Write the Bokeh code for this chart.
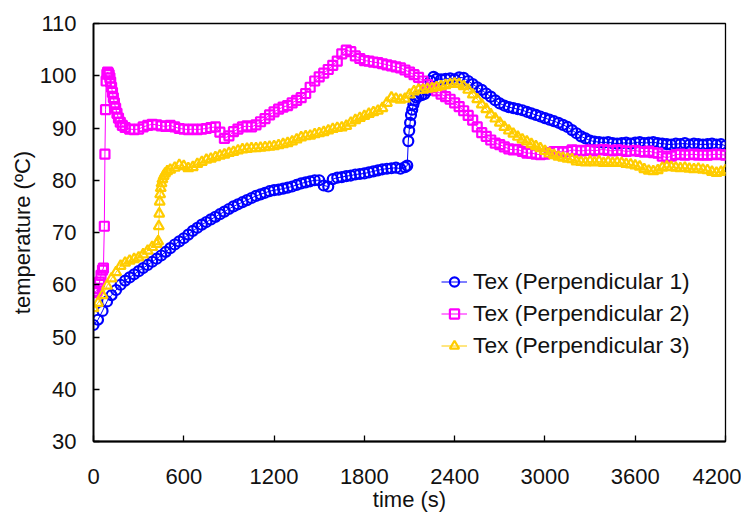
from bokeh.plotting import figure
from bokeh.models import Range1d, FixedTicker, Legend, LegendItem, ColumnDataSource
from bokeh.embed import file_html
from bokeh.resources import INLINE

# ---------------- data ----------------
x_ticks = [0, 600, 1200, 1800, 2400, 3000, 3600, 4200]
y_ticks = [30, 40, 50, 60, 70, 80, 90, 100, 110]

label1 = "Tex (Perpendicular 1)"
label2 = "Tex (Perpendicular 2)"
label3 = "Tex (Perpendicular 3)"

# Series 1 (blue, circles)
t1 = (list(range(0, 2071, 30))
      + [2085, 2092, 2098, 2104, 2110, 2118, 2126, 2135, 2145, 2160, 2180, 2200, 2220, 2240, 2260]
      + list(range(2280, 4201, 30)))
y1 = [52.3, 53.3, 55.0, 56.8, 58.0, 59.0, 60.0, 60.8, 61.4, 62.0,
      62.6, 63.2, 63.8, 64.4, 65.0, 65.6, 66.3, 67.0, 67.7, 68.3,
      68.9, 69.6, 70.3, 70.9, 71.5, 72.0, 72.5, 73.0, 73.5, 74.0,
      74.5, 75.0, 75.4, 75.8, 76.2, 76.6, 77.0, 77.3, 77.6, 77.9,
      78.1, 78.2, 78.4, 78.6, 78.8, 79.1, 79.4, 79.6, 79.8, 80.0,
      80.0, 79.0, 78.8, 80.2, 80.5, 80.6, 80.8, 80.9, 81.1, 81.2,
      81.3, 81.5, 81.7, 81.9, 82.1, 82.2, 82.3, 82.4, 82.2, 82.5,
      82.8, 87.5, 89.5, 91.0, 92.5, 93.5, 94.5, 95.3, 95.8, 96.1,
      96.3, 96.5, 97.2, 99.0, 99.8,
      99.4, 99.3, 99.4, 99.5, 99.3, 99.7, 99.6, 99.0, 98.4, 97.8,
      97.3, 96.6, 96.0, 95.3, 94.7, 94.3, 94.0, 93.8, 93.6, 93.4,
      93.1, 92.8, 92.5, 92.2, 91.9, 91.6, 91.3, 91.0, 90.6, 90.2,
      89.6, 89.0, 88.4, 88.0, 87.6, 87.4, 87.3, 87.2, 87.3, 87.1,
      87.0, 87.1, 87.2, 87.0, 87.2, 87.3, 87.1, 87.2, 87.3, 87.1,
      87.0, 86.9, 86.8, 87.0, 86.9, 87.1, 86.8, 87.0, 86.9, 86.8,
      86.9, 87.0, 86.8, 86.9, 86.6]

# Series 2 (magenta, squares)
t2 = ([0, 10, 20, 30, 40, 50, 60, 66, 72, 76, 80, 84, 89, 94, 99, 104, 109, 114,
       120, 126, 132, 139, 147, 156, 166, 178, 192, 210]
      + list(range(240, 4201, 30)))
y2 = [58.5, 58.6, 58.8, 59.3, 60.5, 61.8, 62.8, 63.2, 71.2, 85.0,
      93.5, 99.0, 100.3, 100.7, 100.5, 100.2, 99.6, 98.8, 97.8, 96.8,
      95.8, 94.8, 93.8, 92.8, 91.9, 91.1, 90.5, 90.1,
      89.8, 89.7, 89.8, 90.2, 90.5, 90.7, 90.6, 90.4, 90.3, 90.5,
      90.2, 89.9, 89.8, 89.7, 89.8, 89.7, 89.8, 89.9, 90.1, 90.2,
      89.2, 88.0, 88.5, 89.3, 89.8, 90.2, 90.4, 90.2, 90.6, 91.2,
      91.8, 92.5, 93.1, 93.6, 94.0, 94.3, 94.8, 95.3, 95.8, 96.6,
      97.8, 99.0, 99.8, 100.5, 101.2, 102.0, 102.8, 104.2, 104.9, 104.6,
      103.8, 103.3, 102.9, 102.8, 102.6, 102.5, 102.3, 102.1, 101.9, 101.7,
      101.5, 101.1, 100.7, 100.2, 99.7, 99.0, 98.3, 97.7, 97.1, 96.5,
      96.0, 95.5, 94.8, 94.1, 93.3, 92.4, 91.5, 90.2, 89.1, 88.4,
      87.7, 87.1, 86.8, 86.4, 86.0, 85.8, 85.9, 85.5, 85.2, 85.2,
      85.0, 84.9, 85.0, 85.3, 85.5, 85.5, 85.4, 85.5, 85.8, 85.7,
      85.6, 85.7, 85.8, 85.6, 85.8, 85.9, 85.7, 85.6, 85.8, 85.7,
      85.5, 85.6, 85.7, 85.5, 85.4, 85.6, 85.3, 85.2, 84.6, 84.3,
      84.6, 84.9, 85.0, 84.8, 84.9, 85.0, 84.8, 84.9, 84.8, 84.9,
      85.0, 84.9, 84.8]

# Series 3 (gold, triangles)
t3 = (list(range(0, 421, 30))
      + [430, 434, 437, 440, 443, 447, 452, 458, 466, 476, 490]
      + list(range(510, 4201, 30)))
y3 = [55.5, 56.5, 58.0, 59.8, 61.2, 62.4, 63.6, 64.2, 64.6, 64.9,
      65.2, 65.8, 66.5, 67.2, 67.8,
      68.3, 71.2, 73.6, 75.9, 77.3, 78.5, 79.4, 80.2, 80.8, 81.3, 81.7,
      82.0, 82.4, 82.9, 82.7, 82.3, 82.5, 83.1, 83.5, 83.9, 84.1,
      84.4, 84.7, 84.9, 85.2, 85.4, 85.7, 85.9, 86.0, 86.1, 86.1,
      86.2, 86.3, 86.4, 86.5, 86.7, 86.9, 87.1, 87.4, 87.8, 88.2,
      88.4, 88.5, 88.8, 89.0, 89.2, 89.5, 89.8, 90.0, 90.1, 90.4,
      91.0, 91.5, 91.9, 92.3, 92.7, 93.0, 93.3, 93.8, 94.8, 95.8,
      95.6, 95.4, 95.6, 96.4, 97.0, 97.3, 97.3, 97.5, 97.6, 97.8,
      98.0, 98.2, 98.4, 98.5, 98.4, 98.0, 97.3, 96.4, 95.5, 94.5,
      93.6, 92.6, 91.8, 91.0, 90.2, 89.5, 88.9, 88.3, 87.8, 87.4,
      86.9, 86.5, 86.1, 85.6, 85.1, 84.8, 84.5, 84.3, 84.1, 84.0,
      83.6, 83.5, 83.4, 83.6, 83.4, 83.6, 83.3, 83.5, 83.3, 83.4,
      83.3, 83.1, 83.0, 82.8, 82.6, 82.1, 81.8, 81.7, 81.9, 82.4,
      82.6, 82.5, 82.4, 82.3, 82.4, 82.2, 82.1, 82.2, 82.0, 81.9,
      81.6, 81.4, 81.6, 81.9]

FONT = "Liberation Sans"

# ---------------- figure ----------------
p = figure(frame_width=632, frame_height=418, output_backend="svg", toolbar_location=None,
           x_range=Range1d(0, 4200), y_range=Range1d(30, 110),
           min_border_left=93, min_border_right=16, min_border_top=23,
           min_border_bottom=64)
p.background_fill_color = "white"
p.border_fill_color = "white"
p.outline_line_color = "black"
p.outline_line_width = 1.3
p.xgrid.grid_line_color = None
p.ygrid.grid_line_color = None

for ax, ticks in ((p.xaxis[0], x_ticks), (p.yaxis[0], y_ticks)):
    ax.ticker = FixedTicker(ticks=ticks)
    ax.major_tick_in = 6
    ax.major_tick_out = 0
    ax.minor_tick_line_color = None
    ax.axis_line_color = "black"
    ax.axis_line_width = 1.8
    ax.major_tick_line_color = "black"
    ax.major_tick_line_width = 1.3
    ax.major_label_text_font = FONT
    ax.major_label_text_font_size = "22px"
    ax.major_label_text_color = "#111111"
    ax.axis_label_text_font = FONT
    ax.axis_label_text_font_size = "22px"
    ax.axis_label_text_font_style = "normal"
    ax.axis_label_text_color = "#111111"

p.xaxis.axis_label = "time (s)"
p.yaxis.axis_label = "temperature (ºC)"
p.xaxis.major_label_standoff = 27
p.xaxis.axis_label_standoff = 0
p.yaxis.major_label_standoff = 17
p.yaxis.axis_label_standoff = 2

series = [
    (t1, y1, "#0000FF", "circle", 10, label1),
    (t2, y2, "#FF00FF", "square", 9, label2),
    (t3, y3, "#FFCC00", "triangle", 10, label3),
]

items = []
for t, y, color, marker, size, label in series:
    src = ColumnDataSource(data=dict(t=t, y=y))
    ln = p.line("t", "y", source=src, line_color=color, line_width=1)
    sc = p.scatter("t", "y", source=src, marker=marker, size=size,
                   line_color=color, fill_color=None, line_width=2.2)
    items.append(LegendItem(label=label, renderers=[ln, sc]))

legend = Legend(items=items, location=(348, 82))
legend.label_text_font = FONT
legend.label_text_font_size = "22.8px"
legend.label_text_color = "#111111"
legend.border_line_color = None
legend.background_fill_alpha = 0
legend.padding = 0
legend.margin = 0
legend.spacing = 4
legend.glyph_width = 26
legend.glyph_height = 23
legend.label_height = 28
legend.label_standoff = 6
p.add_layout(legend)

open("out.html", "w").write(file_html(p, INLINE))
